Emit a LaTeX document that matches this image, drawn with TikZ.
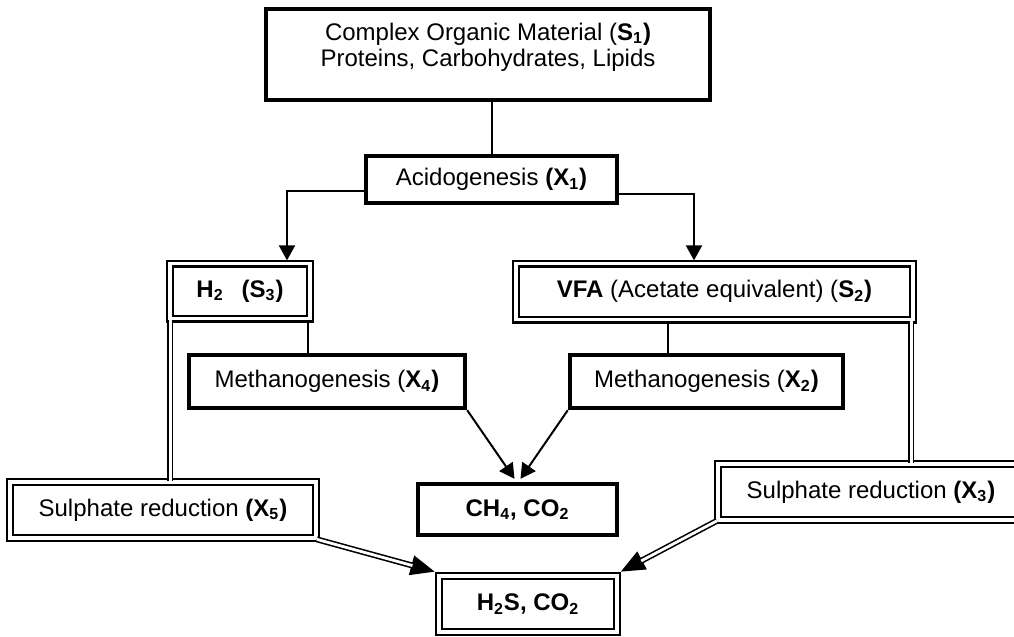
\documentclass[tikz,border=0pt]{standalone}
\usepackage{fontspec}
\setmainfont{Liberation Sans}
\usetikzlibrary{arrows.meta,calc}
\begin{document}
\begin{tikzpicture}[x=0.5pt,y=-0.5pt,
  every node/.style={font=\fontsize{12}{13}\selectfont, inner sep=0pt},
  thickbox/.style={draw, line width=2.2pt},
  dbox/.style={draw, line width=1.1pt, double, double distance=1.8pt},
  conn/.style={line width=1pt},
  dconn/.style={line width=0.8pt, double, double distance=1.4pt},
  tip/.style={-{Triangle[length=7.5pt,width=8pt]}},
  bigtip/.style={-{Triangle[length=12pt,width=10pt]}}
]
\useasboundingbox (0,0) rectangle (1014,637);

% nodes
\node[thickbox, minimum width=222pt, minimum height=45.5pt] (s1) at (488,54.5) {};
\node[align=center] (s1t) at (488,47) {Complex Organic Material (\textbf{S\textsubscript{1})}\\Proteins, Carbohydrates, Lipids};
\node[thickbox, minimum width=125.5pt, minimum height=23.5pt] (x1) at (491.5,179.5) {Acidogenesis \textbf{(X\textsubscript{1})}};
\node[dbox, minimum width=69.75pt, minimum height=27.5pt] (s3) at (240,291) {\textbf{H\textsubscript{2}\hspace{9pt}(S\textsubscript{3})}};
\node[dbox, minimum width=198.5pt, minimum height=28pt] (s2) at (714.5,291.5) {\textbf{VFA} (Acetate equivalent) (\textbf{S\textsubscript{2})}};
\node[thickbox, minimum width=138pt, minimum height=26.5pt] (x4) at (327,381.5) {Methanogenesis (\textbf{X\textsubscript{4})}};
\node[thickbox, minimum width=136.5pt, minimum height=26.5pt] (x2) at (706.5,381.5) {Methanogenesis (\textbf{X\textsubscript{2})}};
\node[thickbox, minimum width=99.5pt, minimum height=25.5pt] (ch4) at (517.5,509.5) {\textbf{CH\textsubscript{4}, CO\textsubscript{2}}};
\node[dbox, minimum width=152.75pt, minimum height=28.25pt] (x5) at (163,510) {Sulphate reduction \textbf{(X\textsubscript{5})}};
\node[dbox, minimum width=153pt, minimum height=27.75pt] (x3) at (871,492) {Sulphate reduction \textbf{(X\textsubscript{3})}};
\node[dbox, minimum width=89.25pt, minimum height=28.25pt] (h2s) at (528,604) {\textbf{H\textsubscript{2}S, CO\textsubscript{2}}};

% connectors
\draw[conn] (x1.north) -- (x1.north |- s1.south);
\draw[conn, tip] ($(x1.west)+(0,11.5)$) -| ($(s3.north)+(47,-2)$);
\draw[conn, tip] ($(x1.east)+(0,14.5)$) -| ($(s2.north)+(-20.5,-2)$);
\draw[conn] ($(s3.south)+(68,0)$) -- ($(x4.north)+(-19,0)$);
\draw[conn] ($(s2.south)+(-46.5,0)$) -- ($(x2.north)+(-38.5,0)$);

\coordinate (a) at ($(s3.south west)+(1,0)$);
\draw[dconn] (a) -- (a |- x5.north);
\coordinate (b) at ($(s2.south east)+(-3,0)$);
\draw[dconn] (b) -- (b |- x3.north);

\draw[conn, tip] (x4.south east) -- ($(ch4.north)+(-3,-3)$);
\draw[conn, tip] (x2.south west) -- ($(ch4.north)+(3,-3)$);

\coordinate (c5) at ($(h2s.north west)+(-3,-3)$);
\draw[bigtip, line width=0.8pt] (x5.south east) -- (c5);
\draw[dconn, shorten >=11.5pt] (x5.south east) -- (c5);
\coordinate (c3) at ($(h2s.north east)+(2.5,-3)$);
\draw[bigtip, line width=0.8pt] (x3.south west) -- (c3);
\draw[dconn, shorten >=11.5pt] (x3.south west) -- (c3);
\end{tikzpicture}
\end{document}
